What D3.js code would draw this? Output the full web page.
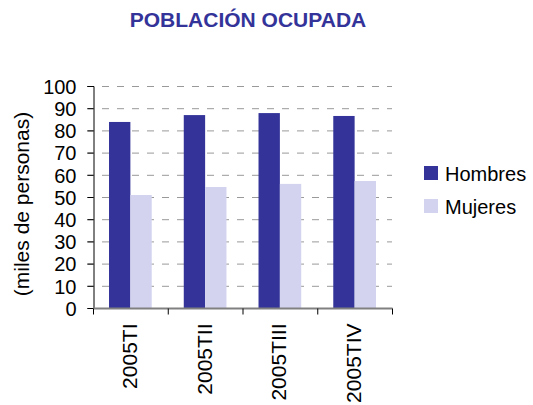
<!DOCTYPE html>
<html>
<head>
<meta charset="utf-8">
<script src="https://cdn.jsdelivr.net/npm/d3@7"></script>
<style>
  body { margin: 0; background: #fff; }
  text { font-family: "Liberation Sans", Arial, sans-serif; }
</style>
</head>
<body>
<div id="chart"></div>
<script>
var categories = ["2005TI", "2005TII", "2005TIII", "2005TIV"];
var seriesNames = ["Hombres", "Mujeres"];
var hombres = [83.8, 86.9, 87.8, 86.5];
var mujeres = [50.9, 54.5, 55.9, 57.2];
var yTicks = [0, 10, 20, 30, 40, 50, 60, 70, 80, 90, 100];
var colors = ["#333399", "#d3d3f0"];

var width = 533, height = 405;
var plot = { left: 93, right: 392, top: 86, bottom: 308 };

var svg = d3.select("#chart").append("svg")
    .attr("width", width)
    .attr("height", height);

var x = d3.scaleBand()
    .domain(categories)
    .range([plot.left, plot.right]);

var barW = x.bandwidth() / 3.5;

var y = d3.scaleLinear()
    .domain([0, 100])
    .range([plot.bottom, plot.top]);

// title
svg.append("text")
    .attr("x", 248)
    .attr("y", 27)
    .attr("text-anchor", "middle")
    .style("font-size", "21px")
    .style("font-weight", "bold")
    .style("fill", "#333399")
    .text("POBLACIÓN OCUPADA");

// grid
svg.append("g")
    .selectAll("line")
    .data(yTicks.slice(1))
    .enter().append("line")
    .attr("x1", plot.left - 6)
    .attr("x2", plot.right)
    .attr("y1", function (d) { return y(d) + 0.5; })
    .attr("y2", function (d) { return y(d) + 0.5; })
    .style("stroke", "#999")
    .style("stroke-width", 1)
    .style("stroke-dasharray", "7,8");

// bars
var data = categories.map(function (c, i) { return [hombres[i], mujeres[i]]; });

var group = svg.selectAll(".cat")
    .data(data)
    .enter().append("g")
    .attr("class", "cat")
    .attr("transform", function (d, i) { return "translate(" + x(categories[i]) + ",0)"; });

group.selectAll("rect")
    .data(function (d) { return d; })
    .enter().append("rect")
    .attr("x", function (d, j) { return barW * 0.75 + j * barW; })
    .attr("width", barW)
    .attr("y", function (d) { return y(d); })
    .attr("height", function (d) { return y(0) - y(d); })
    .style("fill", function (d, j) { return colors[j]; });

// y axis
var yAxis = svg.append("g")
    .attr("transform", "translate(" + (plot.left + 0.5) + ",0)")
    .call(d3.axisLeft(y).tickValues(yTicks).tickSize(6).tickPadding(11));
yAxis.select(".domain").style("stroke", "#000");
yAxis.selectAll(".tick line").style("stroke", "#000");
yAxis.selectAll("text")
    .style("font-size", "20px")
    .style("fill", "#000")
    .attr("dy", "0.36em");

// x axis
var xAxis = svg.append("g")
    .attr("transform", "translate(0," + (plot.bottom + 0.5) + ")");
xAxis.append("line")
    .attr("x1", plot.left)
    .attr("x2", plot.right + 0.5)
    .style("stroke", "#808080")
    .style("stroke-width", 2);
xAxis.selectAll(".xt")
    .data(d3.range(categories.length + 1))
    .enter().append("line")
    .attr("x1", function (i) { return plot.left + 0.5 + i * x.step(); })
    .attr("x2", function (i) { return plot.left + 0.5 + i * x.step(); })
    .attr("y1", 0)
    .attr("y2", 6)
    .style("stroke", "#000");
xAxis.selectAll(".xl")
    .data(categories)
    .enter().append("text")
    .attr("transform", function (d) {
        return "translate(" + (x(d) + x.bandwidth() / 2 + 6.5) + ",15) rotate(-90)";
    })
    .attr("text-anchor", "end")
    .style("font-size", "21px")
    .text(function (d) { return d; });

// y title
svg.append("text")
    .attr("transform", "translate(29,204) rotate(-90)")
    .attr("text-anchor", "middle")
    .style("font-size", "21px")
    .text("(miles de personas)");

// legend
var legend = svg.selectAll(".legend")
    .data(seriesNames)
    .enter().append("g")
    .attr("class", "legend")
    .attr("transform", function (d, i) { return "translate(424," + (166 + i * 33) + ")"; });

legend.append("rect")
    .attr("width", 14)
    .attr("height", 14)
    .style("fill", function (d, i) { return colors[i]; });

legend.append("text")
    .attr("x", 21)
    .attr("y", 15)
    .style("font-size", "20px")
    .text(function (d) { return d; });
</script>
</body>
</html>
